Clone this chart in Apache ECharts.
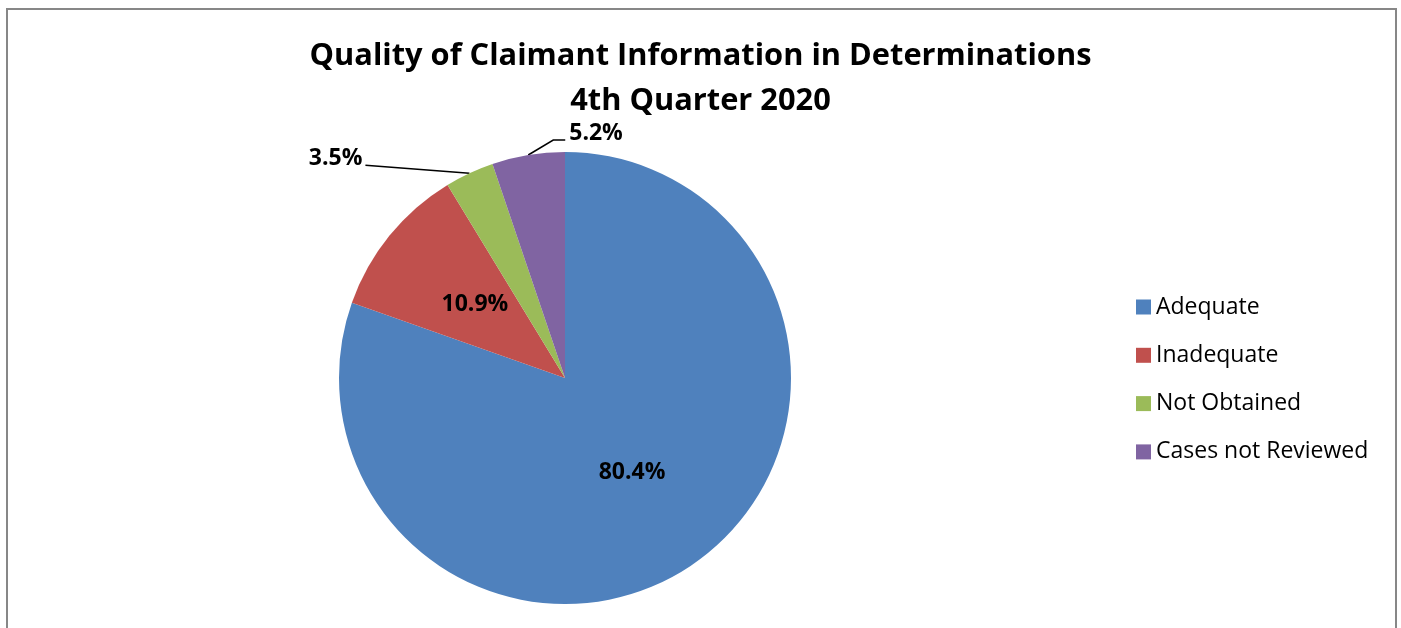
<!DOCTYPE html>
<html>
<head>
<meta charset="utf-8">
<script src="https://cdn.jsdelivr.net/npm/echarts@6/dist/echarts.min.js"></script>
<style>
  html, body { margin: 0; padding: 0; background: #fff; }
  #chart { width: 1401px; height: 628px; }
  .frame {
    position: absolute; left: 6px; top: 8px; width: 1391px; height: 700px;
    border: 2px solid #878787; box-sizing: border-box; pointer-events: none;
  }
</style>
</head>
<body>
<div id="chart"></div>
<div class="frame"></div>
<script>
const categories = ["Adequate", "Inadequate", "Not Obtained", "Cases not Reviewed"];
const shares = [80.4, 10.9, 3.5, 5.2];
const colors = ["#4F81BD", "#C0504D", "#9BBB59", "#8064A2"];
// small slices get their label outside with a leader line
const outside = [false, false, true, true];

const chart = echarts.init(document.getElementById("chart"));

const pieData = categories.map((name, i) => ({
  name,
  value: shares[i],
  itemStyle: { color: colors[i] },
  label: { position: outside[i] ? "outside" : "inside" },
  labelLine: { show: outside[i] },
}));

chart.setOption({
  backgroundColor: "#fff",
  animation: false,
  title: {
    text: "Quality of Claimant Information in Determinations\n4th Quarter 2020",
    left: "center",
    top: 29,
    textStyle: {
      fontFamily: "Open Sans",
      fontWeight: "bold",
      fontSize: 30.8,
      lineHeight: 45,
      color: "#000",
    },
  },
  legend: {
    orient: "vertical",
    left: 1131,
    top: 290,
    icon: "rect",
    itemWidth: 15,
    itemHeight: 15,
    itemGap: 24.3,
    data: categories,
    textStyle: { fontFamily: "Open Sans", fontSize: 23, lineHeight: 24, color: "#000" },
  },
  series: [{
    type: "pie",
    center: [565, 378],
    radius: 226,
    startAngle: 90,
    clockwise: true,
    avoidLabelOverlap: false,
    data: pieData,
    label: {
      show: true,
      formatter: (p) => p.value.toFixed(1) + "%",
      fontFamily: "Open Sans",
      fontWeight: "bold",
      fontSize: 23,
      color: "#000",
    },
    labelLine: {
      lineStyle: { color: "#000", width: 1.5 },
      length: 5,
      length2: 100,
    },
    labelLayout: (p) => {
      const pts = p.labelLinePoints;
      if (!pts) return {};
      const [x0, y0] = pts[0];
      if (p.dataIndex === 2) {
        return {
          x: x0 - 107, y: y0 - 15, align: "right", verticalAlign: "middle",
          labelLinePoints: [[x0, y0], [x0 - 104, y0 - 8]],
        };
      }
      if (p.dataIndex === 3) {
        return {
          x: x0 + 41, y: y0 - 22, align: "left", verticalAlign: "middle",
          labelLinePoints: [[x0, y0], [x0 + 25, y0 - 15], [x0 + 37, y0 - 15]],
        };
      }
      return {};
    },
  }],
});
</script>
</body>
</html>
